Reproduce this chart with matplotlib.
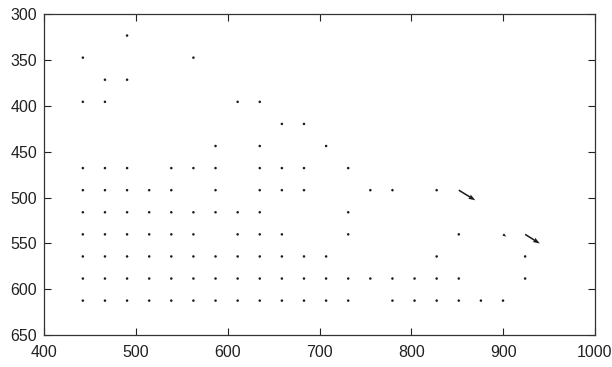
import matplotlib.pyplot as plt
import numpy as np

# grid columns / rows of the sampled field
col_x = [442.0, 466.1, 490.2, 514.3, 538.4, 562.5, 586.6, 610.7, 634.8, 658.9, 683.0,
         707.1, 731.2, 755.3, 779.4, 803.5, 827.6, 851.7, 875.8, 899.9, 924.0]
row_y = [612.5, 588.4, 564.3, 540.2, 516.1, 492.0, 467.9, 443.8, 419.7, 395.6,
         371.5, 347.4, 323.3]

# which columns carry a vector on each row (index into col_x)
row_cols = [
    [0, 1, 2, 3, 4, 5, 6, 7, 8, 9, 10, 11, 12, 14, 15, 16, 17, 18, 19],
    [0, 1, 2, 3, 4, 5, 6, 7, 8, 9, 10, 11, 12, 13, 14, 15, 16, 17, 20],
    [0, 1, 2, 3, 4, 5, 6, 7, 8, 9, 10, 11, 16, 20],
    [0, 1, 2, 3, 4, 5, 7, 8, 9, 12, 17, 19, 20],
    [0, 1, 2, 3, 4, 5, 6, 7, 8, 12],
    [0, 1, 2, 3, 4, 6, 8, 9, 10, 13, 14, 16, 17],
    [0, 1, 2, 4, 5, 6, 8, 9, 10, 12],
    [6, 8, 11],
    [9, 10],
    [0, 1, 7, 8],
    [1, 2],
    [0, 5],
    [2],
]

# vector components, same layout as row_cols (mostly near zero)
row_u = [
    [0.4, 0.3, 0, 0, 0, 0.3, 0, 0, 0, 0, 0.4, -0.8, 0, 0, 0.5, 0, 0.5, 0, 0],
    [0.5, 0, 0, 0, 0, 0.4, 0, 0, 0.5, 0, 0, 0, 0, 0, 0, 0.4, 0, 0.5, 0],
    [0.3, 0, 0.3, 0, 0, 0, 0, 0, 0.4, 0, 0, 0.6, 0.6, 0],
    [0, 0, 0.3, 0, 0, 0.4, 0.8, 0.4, 0.5, 0.6, 0.8, 3.6, 16.0],
    [0.5, 0.5, 0, 0.4, 0, 0, 0, 0, 0, 0.5],
    [0.6, 0.8, 0.4, 0.5, 0, 0, 0, 0, 0, 0, 0, 0, 18.0],
    [0.4, 0, 0, 0, 0.4, 0, 0.3, 0, 0, 0.5],
    [0.4, 0, 0],
    [0.4, 0],
    [1.4, 0, 0, 0],
    [0, 0],
    [0.4, 0],
    [0.4],
]
row_v = [
    [0.4, 0.3, 0, 0, 0, 0.8, 0, 0, 0, 0, 0.4, 1.0, 0, 0, 0, 0, 0, 0, 0.8],
    [0.5, 0.6, 0.5, 0.5, 0, 0, 0, 0, 0, 0.5, 0, 0, 0, 0, 0.5, 0, 0.5, 0, 0.5],
    [0.3, 0.6, 0, 0.5, 0, 0, 0, 0, 0, 0, 0.5, 0.5, 0, 0.5],
    [0.5, 0.6, 0.6, 0.5, 0.5, 0.6, 0.4, 0.4, 0, 0.5, 0.3, 2.5, 10.0],
    [0.5, 0.5, 0.5, 0.4, 0, 0, 0, 0, 0.5, 0],
    [0, 0, 0.5, 0, 0.5, 0.6, 0.6, 0.8, 0.5, 0.5, 0.6, 0.5, 11.0],
    [0.4, 0.6, 0.5, 0, 0.4, 0.3, 0.6, 0.5, 0.6, 0],
    [0.5, 0.5, 0.5],
    [0.5, 0.6],
    [-1.4, 1.0, 0.6, 0.6],
    [1.0, 0.6],
    [0.4, 1.0],
    [0.4],
]

x, y, u, v = [], [], [], []
for j, cols in enumerate(row_cols):
    for n, k in enumerate(cols):
        x.append(col_x[k])
        y.append(row_y[j])
        u.append(row_u[j][n])
        v.append(row_v[j][n])

plt.rcParams['font.family'] = ['Liberation Sans', 'DejaVu Sans']

fig = plt.figure(figsize=(6.12, 3.67), dpi=100)
ax = fig.add_axes([0.0724, 0.0872, 0.8996, 0.8741])

ax.quiver(x, y, u, v, angles='xy', scale_units='xy', scale=1,
          color='#1a1a1a', width=0.0028, headwidth=3.2, headlength=4.5,
          headaxislength=4.0, minlength=1.8)

ax.set_xlim(400, 1000)
ax.set_ylim(650, 300)
ax.set_xticks(np.arange(400, 1001, 100))
ax.set_yticks(np.arange(300, 651, 50))
ax.tick_params(direction='in', length=5, width=0.8, top=True, right=True,
               labelsize=11.5, colors='#222222', pad=5)
ax.tick_params(axis='x', pad=7)
for s in ax.spines.values():
    s.set_linewidth(0.9)
    s.set_color('#333333')

fig.savefig('out.png', dpi=100)
